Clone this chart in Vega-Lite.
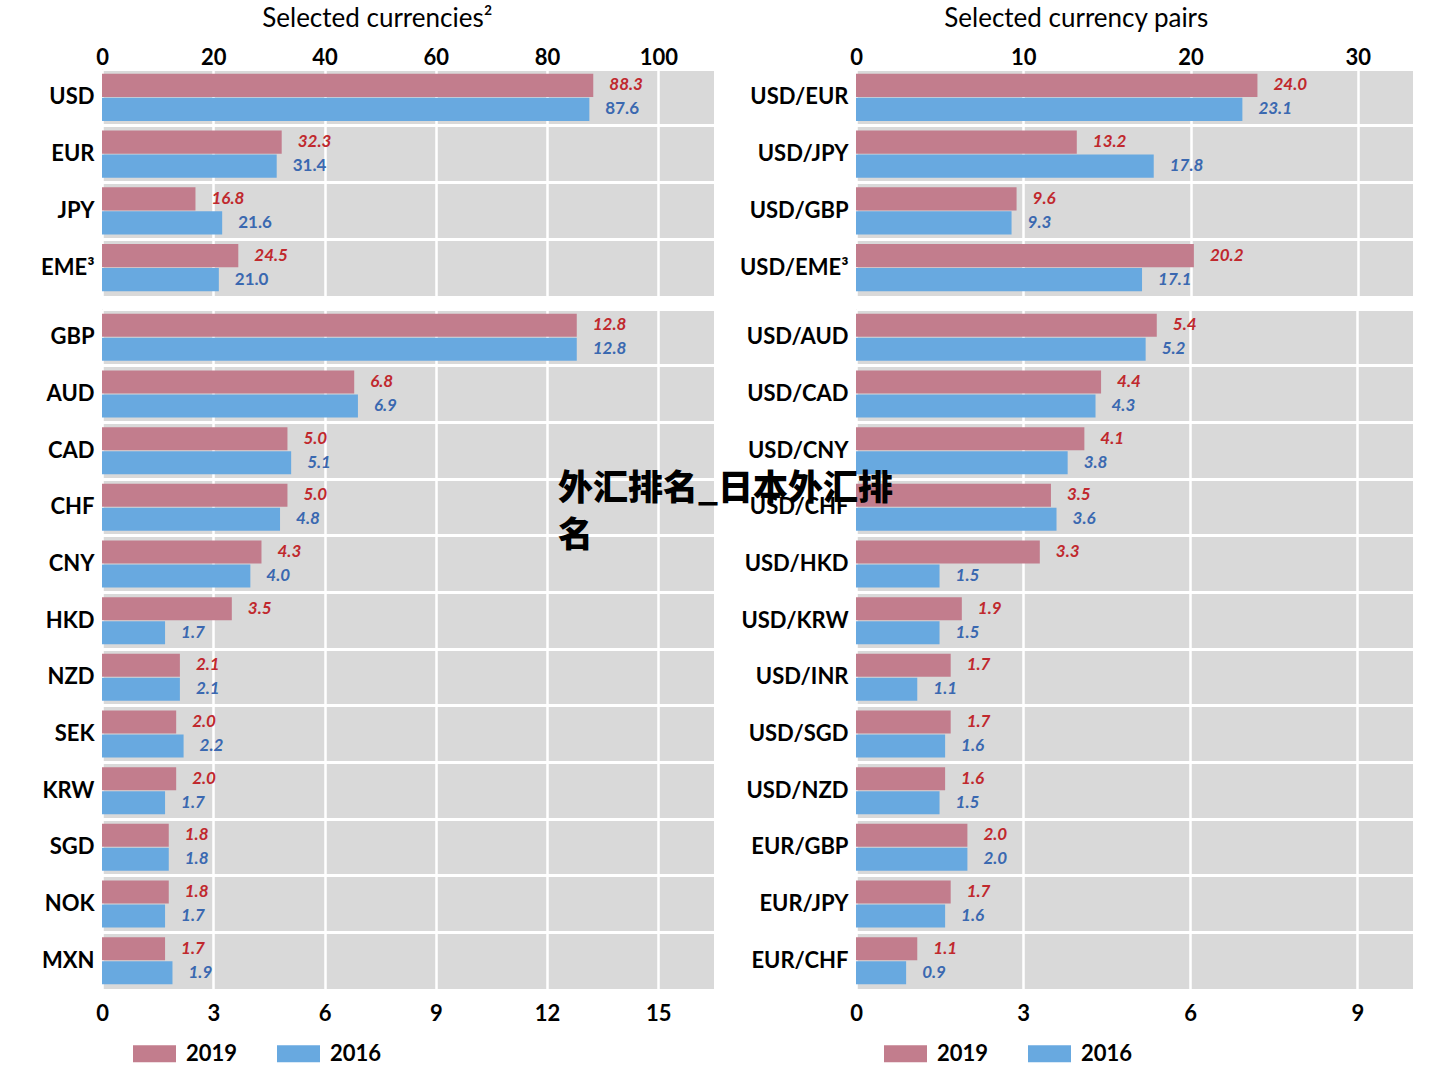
{
  "$schema": "https://vega.github.io/schema/vega-lite/v6.json",
  "background": "white",
  "padding": {"left": 40, "top": 6, "right": 20, "bottom": 10},
  "config": {
    "font": "Lato",
    "view": {"fill": "#d9d9d9", "stroke": null},
    "axis": {"labelFont": "Lato", "labelFontSize": 22, "labelFontWeight": "bold", "labelColor": "black", "domain": false, "ticks": false, "title": null, "gridColor": "white", "labelFlush": false, "labelOverlap": false},
    "axisX": {"gridWidth": 2.5},
    "axisY": {"gridWidth": 3},
    "title": {"font": "Lato", "fontSize": 26, "fontWeight": "normal", "color": "black", "anchor": "middle", "frame": "bounds", "offset": 14},
    "legend": {"labelFont": "Lato", "labelFontSize": 22, "labelFontWeight": "bold", "labelColor": "black"}
  },
  "datasets": {
    "curTop": [
      {"cat": "USD", "year": "2019", "value": 88.3}, {"cat": "USD", "year": "2016", "value": 87.6},
      {"cat": "EUR", "year": "2019", "value": 32.3}, {"cat": "EUR", "year": "2016", "value": 31.4},
      {"cat": "JPY", "year": "2019", "value": 16.8}, {"cat": "JPY", "year": "2016", "value": 21.6},
      {"cat": "EME³", "year": "2019", "value": 24.5}, {"cat": "EME³", "year": "2016", "value": 21.0}
    ],
    "curBottom": [
      {"cat": "GBP", "year": "2019", "value": 12.8}, {"cat": "GBP", "year": "2016", "value": 12.8},
      {"cat": "AUD", "year": "2019", "value": 6.8}, {"cat": "AUD", "year": "2016", "value": 6.9},
      {"cat": "CAD", "year": "2019", "value": 5.0}, {"cat": "CAD", "year": "2016", "value": 5.1},
      {"cat": "CHF", "year": "2019", "value": 5.0}, {"cat": "CHF", "year": "2016", "value": 4.8},
      {"cat": "CNY", "year": "2019", "value": 4.3}, {"cat": "CNY", "year": "2016", "value": 4.0},
      {"cat": "HKD", "year": "2019", "value": 3.5}, {"cat": "HKD", "year": "2016", "value": 1.7},
      {"cat": "NZD", "year": "2019", "value": 2.1}, {"cat": "NZD", "year": "2016", "value": 2.1},
      {"cat": "SEK", "year": "2019", "value": 2.0}, {"cat": "SEK", "year": "2016", "value": 2.2},
      {"cat": "KRW", "year": "2019", "value": 2.0}, {"cat": "KRW", "year": "2016", "value": 1.7},
      {"cat": "SGD", "year": "2019", "value": 1.8}, {"cat": "SGD", "year": "2016", "value": 1.8},
      {"cat": "NOK", "year": "2019", "value": 1.8}, {"cat": "NOK", "year": "2016", "value": 1.7},
      {"cat": "MXN", "year": "2019", "value": 1.7}, {"cat": "MXN", "year": "2016", "value": 1.9}
    ],
    "pairTop": [
      {"cat": "USD/EUR", "year": "2019", "value": 24.0}, {"cat": "USD/EUR", "year": "2016", "value": 23.1},
      {"cat": "USD/JPY", "year": "2019", "value": 13.2}, {"cat": "USD/JPY", "year": "2016", "value": 17.8},
      {"cat": "USD/GBP", "year": "2019", "value": 9.6}, {"cat": "USD/GBP", "year": "2016", "value": 9.3},
      {"cat": "USD/EME³", "year": "2019", "value": 20.2}, {"cat": "USD/EME³", "year": "2016", "value": 17.1}
    ],
    "pairBottom": [
      {"cat": "USD/AUD", "year": "2019", "value": 5.4}, {"cat": "USD/AUD", "year": "2016", "value": 5.2},
      {"cat": "USD/CAD", "year": "2019", "value": 4.4}, {"cat": "USD/CAD", "year": "2016", "value": 4.3},
      {"cat": "USD/CNY", "year": "2019", "value": 4.1}, {"cat": "USD/CNY", "year": "2016", "value": 3.8},
      {"cat": "USD/CHF", "year": "2019", "value": 3.5}, {"cat": "USD/CHF", "year": "2016", "value": 3.6},
      {"cat": "USD/HKD", "year": "2019", "value": 3.3}, {"cat": "USD/HKD", "year": "2016", "value": 1.5},
      {"cat": "USD/KRW", "year": "2019", "value": 1.9}, {"cat": "USD/KRW", "year": "2016", "value": 1.5},
      {"cat": "USD/INR", "year": "2019", "value": 1.7}, {"cat": "USD/INR", "year": "2016", "value": 1.1},
      {"cat": "USD/SGD", "year": "2019", "value": 1.7}, {"cat": "USD/SGD", "year": "2016", "value": 1.6},
      {"cat": "USD/NZD", "year": "2019", "value": 1.6}, {"cat": "USD/NZD", "year": "2016", "value": 1.5},
      {"cat": "EUR/GBP", "year": "2019", "value": 2.0}, {"cat": "EUR/GBP", "year": "2016", "value": 2.0},
      {"cat": "EUR/JPY", "year": "2019", "value": 1.7}, {"cat": "EUR/JPY", "year": "2016", "value": 1.6},
      {"cat": "EUR/CHF", "year": "2019", "value": 1.1}, {"cat": "EUR/CHF", "year": "2016", "value": 0.9}
    ],
    "note": [
      {"cat": "USD/CHF", "value": -5.35, "note": "外汇排名_日本外汇排\n名"}
    ]
  },
  "columns": 2,
  "bounds": "flush",
  "align": "each",
  "spacing": {"row": 13, "column": 142},
  "resolve": {"scale": {"color": "independent", "x": "independent", "y": "independent", "yOffset": "independent"}, "legend": {"color": "independent"}},
  "concat": [
    {
      "width": 612, "height": 227,
      "data": {"name": "curTop"},
      "title": {"text": "Selected currencies²"},
      "encoding": {
        "y": {"field": "cat", "type": "nominal", "sort": null, "scale": {"paddingInner": 0, "paddingOuter": 0}, "axis": {"grid": true, "bandPosition": 0, "labelPadding": 8}},
        "x": {"field": "value", "type": "quantitative", "scale": {"domain": [0, 110], "nice": false}, "axis": {"orient": "top", "values": [0, 20, 40, 60, 80, 100], "labelPadding": 0, "grid": true}}
      },
      "layer": [
        {"mark": {"type": "bar"}, "encoding": {
          "yOffset": {"field": "year", "type": "nominal", "sort": ["2019", "2016"], "scale": {"domain": ["2019", "2016"], "paddingInner": 0.04, "paddingOuter": 0.2}},
          "color": {"field": "year", "type": "nominal", "scale": {"domain": ["2019", "2016"], "range": ["#c27d8d", "#68a9e0"]}, "legend": null}}},
        {"transform": [{"filter": "datum.year == '2019'"}], "mark": {"type": "text", "align": "left", "baseline": "middle", "dx": 16, "fontSize": 17, "fontWeight": "bold", "fontStyle": "italic", "color": "#c0282d"}, "encoding": {
          "yOffset": {"field": "year", "type": "nominal", "sort": ["2019", "2016"], "scale": {"domain": ["2019", "2016"], "paddingInner": 0.04, "paddingOuter": 0.2}},
          "text": {"field": "value", "type": "quantitative", "format": ".1f"}}},
        {"transform": [{"filter": "datum.year == '2016'"}], "mark": {"type": "text", "align": "left", "baseline": "middle", "dx": 16, "fontSize": 17, "fontWeight": "bold", "fontStyle": "normal", "color": "#3a68b0"}, "encoding": {
          "yOffset": {"field": "year", "type": "nominal", "sort": ["2019", "2016"], "scale": {"domain": ["2019", "2016"], "paddingInner": 0.04, "paddingOuter": 0.2}},
          "text": {"field": "value", "type": "quantitative", "format": ".1f"}}}
      ]
    },
    {
      "width": 557, "height": 227,
      "data": {"name": "pairTop"},
      "title": {"text": "Selected currency pairs"},
      "encoding": {
        "y": {"field": "cat", "type": "nominal", "sort": null, "scale": {"paddingInner": 0, "paddingOuter": 0}, "axis": {"grid": true, "bandPosition": 0, "labelPadding": 8}},
        "x": {"field": "value", "type": "quantitative", "scale": {"domain": [0, 33.3], "nice": false}, "axis": {"orient": "top", "values": [0, 10, 20, 30], "labelPadding": 0, "grid": true}}
      },
      "layer": [
        {"mark": {"type": "bar"}, "encoding": {
          "yOffset": {"field": "year", "type": "nominal", "sort": ["2019", "2016"], "scale": {"domain": ["2019", "2016"], "paddingInner": 0.04, "paddingOuter": 0.2}},
          "color": {"field": "year", "type": "nominal", "scale": {"domain": ["2019", "2016"], "range": ["#c27d8d", "#68a9e0"]}, "legend": null}}},
        {"transform": [{"filter": "datum.year == '2019'"}], "mark": {"type": "text", "align": "left", "baseline": "middle", "dx": 16, "fontSize": 17, "fontWeight": "bold", "fontStyle": "italic", "color": "#c0282d"}, "encoding": {
          "yOffset": {"field": "year", "type": "nominal", "sort": ["2019", "2016"], "scale": {"domain": ["2019", "2016"], "paddingInner": 0.04, "paddingOuter": 0.2}},
          "text": {"field": "value", "type": "quantitative", "format": ".1f"}}},
        {"transform": [{"filter": "datum.year == '2016'"}], "mark": {"type": "text", "align": "left", "baseline": "middle", "dx": 16, "fontSize": 17, "fontWeight": "bold", "fontStyle": "italic", "color": "#3a68b0"}, "encoding": {
          "yOffset": {"field": "year", "type": "nominal", "sort": ["2019", "2016"], "scale": {"domain": ["2019", "2016"], "paddingInner": 0.04, "paddingOuter": 0.2}},
          "text": {"field": "value", "type": "quantitative", "format": ".1f"}}}
      ]
    },
    {
      "width": 612, "height": 680,
      "data": {"name": "curBottom"},
      "encoding": {
        "y": {"field": "cat", "type": "nominal", "sort": null, "scale": {"paddingInner": 0, "paddingOuter": 0}, "axis": {"grid": true, "bandPosition": 0, "labelPadding": 8}},
        "x": {"field": "value", "type": "quantitative", "scale": {"domain": [0, 16.5], "nice": false}, "axis": {"orient": "bottom", "values": [0, 3, 6, 9, 12, 15], "labelPadding": 14, "grid": true}}
      },
      "layer": [
        {"mark": {"type": "bar"}, "encoding": {
          "yOffset": {"field": "year", "type": "nominal", "sort": ["2019", "2016"], "scale": {"domain": ["2019", "2016"], "paddingInner": 0.04, "paddingOuter": 0.2}},
          "color": {"field": "year", "type": "nominal", "scale": {"domain": ["2019", "2016"], "range": ["#c27d8d", "#68a9e0"]},
            "legend": {"orient": "none", "legendX": 31, "legendY": 723, "direction": "horizontal", "title": null, "symbolType": "M-1,-0.4H1V0.4H-1Z", "symbolSize": 1849, "symbolStrokeWidth": 0, "symbolOpacity": 1, "labelOffset": 10, "columnPadding": 39, "padding": 0}}}},
        {"transform": [{"filter": "datum.year == '2019'"}], "mark": {"type": "text", "align": "left", "baseline": "middle", "dx": 16, "fontSize": 17, "fontWeight": "bold", "fontStyle": "italic", "color": "#c0282d"}, "encoding": {
          "yOffset": {"field": "year", "type": "nominal", "sort": ["2019", "2016"], "scale": {"domain": ["2019", "2016"], "paddingInner": 0.04, "paddingOuter": 0.2}},
          "text": {"field": "value", "type": "quantitative", "format": ".1f"}}},
        {"transform": [{"filter": "datum.year == '2016'"}], "mark": {"type": "text", "align": "left", "baseline": "middle", "dx": 16, "fontSize": 17, "fontWeight": "bold", "fontStyle": "italic", "color": "#3a68b0"}, "encoding": {
          "yOffset": {"field": "year", "type": "nominal", "sort": ["2019", "2016"], "scale": {"domain": ["2019", "2016"], "paddingInner": 0.04, "paddingOuter": 0.2}},
          "text": {"field": "value", "type": "quantitative", "format": ".1f"}}}
      ]
    },
    {
      "width": 557, "height": 680,
      "data": {"name": "pairBottom"},
      "encoding": {
        "y": {"field": "cat", "type": "nominal", "sort": null, "scale": {"paddingInner": 0, "paddingOuter": 0}, "axis": {"grid": true, "bandPosition": 0, "labelPadding": 8}},
        "x": {"field": "value", "type": "quantitative", "scale": {"domain": [0, 10], "nice": false}, "axis": {"orient": "bottom", "values": [0, 3, 6, 9], "labelPadding": 14, "grid": true}}
      },
      "layer": [
        {"mark": {"type": "bar"}, "encoding": {
          "yOffset": {"field": "year", "type": "nominal", "sort": ["2019", "2016"], "scale": {"domain": ["2019", "2016"], "paddingInner": 0.04, "paddingOuter": 0.2}},
          "color": {"field": "year", "type": "nominal", "scale": {"domain": ["2019", "2016"], "range": ["#c27d8d", "#68a9e0"]},
            "legend": {"orient": "none", "legendX": 28, "legendY": 723, "direction": "horizontal", "title": null, "symbolType": "M-1,-0.4H1V0.4H-1Z", "symbolSize": 1849, "symbolStrokeWidth": 0, "symbolOpacity": 1, "labelOffset": 10, "columnPadding": 39, "padding": 0}}}},
        {"transform": [{"filter": "datum.year == '2019'"}], "mark": {"type": "text", "align": "left", "baseline": "middle", "dx": 16, "fontSize": 17, "fontWeight": "bold", "fontStyle": "italic", "color": "#c0282d"}, "encoding": {
          "yOffset": {"field": "year", "type": "nominal", "sort": ["2019", "2016"], "scale": {"domain": ["2019", "2016"], "paddingInner": 0.04, "paddingOuter": 0.2}},
          "text": {"field": "value", "type": "quantitative", "format": ".1f"}}},
        {"transform": [{"filter": "datum.year == '2016'"}], "mark": {"type": "text", "align": "left", "baseline": "middle", "dx": 16, "fontSize": 17, "fontWeight": "bold", "fontStyle": "italic", "color": "#3a68b0"}, "encoding": {
          "yOffset": {"field": "year", "type": "nominal", "sort": ["2019", "2016"], "scale": {"domain": ["2019", "2016"], "paddingInner": 0.04, "paddingOuter": 0.2}},
          "text": {"field": "value", "type": "quantitative", "format": ".1f"}}},
        {"data": {"name": "note"}, "mark": {"type": "text", "align": "left", "baseline": "middle", "dy": -18, "font": "Noto Sans CJK SC", "fontWeight": 900, "fontSize": 35, "lineBreak": "\n", "lineHeight": 47, "color": "black"}, "encoding": {
          "text": {"field": "note", "type": "nominal"}}}
      ]
    }
  ]
}
